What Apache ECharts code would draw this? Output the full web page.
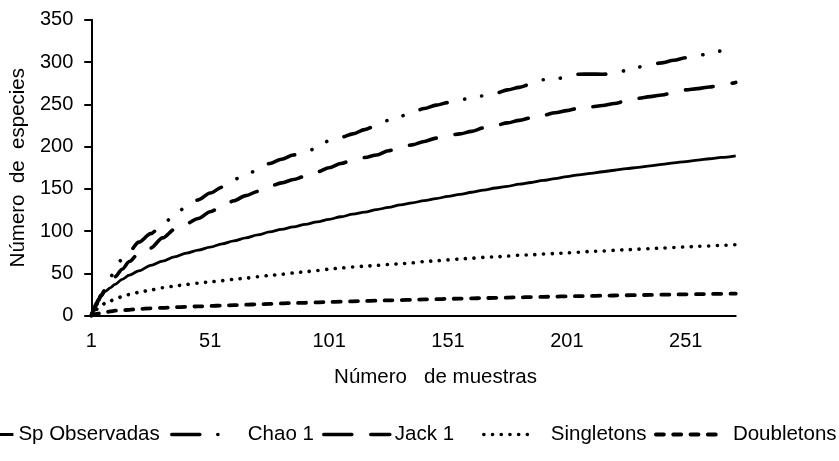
<!DOCTYPE html>
<html>
<head>
<meta charset="utf-8">
<script src="https://cdn.jsdelivr.net/npm/echarts@6/dist/echarts.min.js"></script>
<style>
html,body{margin:0;padding:0;background:#fff;}
#chart{width:839px;height:461px;}
</style>
</head>
<body>
<div id="chart"></div>
<script>
// Number of samples (x positions)
const samples = [1,2,3,4,5,7,9,11,14,17,21,
  26,31,36,41,46,51,56,61,66,71,
  76,81,86,91,96,101,106,111,116,121,
  126,131,136,141,146,151,156,161,166,171,
  176,181,186,191,196,201,206,211,216,221,
  226,231,236,241,246,251,256,261,266,
  272];

const spObservadas = [0,9,15,20,24,29,33,37,43,48,53,
  59.5,64.5,69.5,74,77.5,81,85,88.5,92,95.5,
  99,102,105,108,111,114,117,120,122.5,125.5,
  128,131,133.5,136,138.5,141,143.5,146,148.5,151,
  153,155.5,157.5,160,162,164.5,166.6,168.4,170.2,172,
  173.8,175.5,177.2,178.9,180.6,182.3,184,185.6,187.2,
  189];

const chao1 = [0,6,12,18,24,31,45,56,67,76,87,
  97,108,119,129,137,145,152,161,167,172,
  180,185,190,194,198,207,211,215,220,225,
  231,236,240,245,249,252,255,258,260,263,
  267,270,274,279,280,282,285.5,285.7,285.5,286,
  290,294,297,299,302,305,307.5,310,313,
  316];

const jack1 = [0,6,12,18,23,31,40,46,55,64,74,
  80,92,102,109,115,123,129,136,142,147,
  153,157,161,165,170,175,180,184,187,190,
  195,199,202,206,210,213,215,218,222,225,
  228,231,234,237,240,242.5,245.5,247,248.5,251,
  254,257,259,261,264,267,268.5,270.5,273,
  275.8];

const singletons = [0,4,7,9.5,11.5,15,17.5,19.5,22.5,25,27.5,
  30.5,33,35,37,38.5,40,41.5,43,44.5,46,
  47.5,49,50.5,52,53.5,55,56.5,57.5,58.5,59.5,
  60.5,61.5,62.5,64,65,66,67,68,69,69.5,
  70.5,71.5,72,73,73.5,74.3,75,76,76.5,77.3,
  78,78.7,79.3,80,80.7,81.3,82,82.5,83.2,
  84];

const doubletons = [0,1,2,2.5,3,4,5,6,6.5,7,8,
  8.7,9.3,10,10.5,11,11.5,12,12.5,13,13.5,
  14,14.5,15,15.3,15.7,16.2,16.6,17,17.4,17.8,
  18.1,18.5,18.8,19.2,19.5,19.9,20.2,20.5,20.8,21.1,
  21.4,21.7,22,22.3,22.6,22.9,23.2,23.4,23.7,23.9,
  24.2,24.4,24.6,24.9,25.1,25.3,25.5,25.7,25.9,
  26.1];

const xTickLabels = [1,51,101,151,201,251];
const seriesNames = ['Sp Observadas','Chao 1','Jack 1','Singletons','Doubletons'];

const FONT = 'Arial, "Liberation Sans", sans-serif';

const styles = {
  'Sp Observadas': {width: 2.8, type: 'solid', cap: 'butt'},
  'Chao 1': {width: 3.6, type: [28, 18, 0.1, 17, 0.1, 18], cap: 'round'},
  'Jack 1': {width: 3.6, type: [28, 19], cap: 'round'},
  'Singletons': {width: 3.6, type: [0.1, 8.6], cap: 'round'},
  'Doubletons': {width: 3.8, type: [8, 9.3], cap: 'round'}
};
const values = {
  'Sp Observadas': spObservadas, 'Chao 1': chao1, 'Jack 1': jack1,
  'Singletons': singletons, 'Doubletons': doubletons
};

function pairs(arr) { return samples.map((x, i) => [x, arr[i]]); }

const series = seriesNames.map(name => ({
  name: name,
  type: 'line',
  data: pairs(values[name]),
  symbol: 'none',
  smooth: 0.3,
  smoothMonotone: 'x',
  lineStyle: Object.assign({color: '#000'}, styles[name]),
  itemStyle: {color: '#000'},
  animation: false
}));

// legend layout: [left, itemWidth, textPadLeft]
const legendLayout = {
  'Sp Observadas': [-38, 50, 0],
  'Chao 1': [170, 56, 15],
  'Jack 1': [322, 66, 0],
  'Singletons': [482, 50, 12],
  'Doubletons': [654, 60, 12]
};

const legends = seriesNames.map(name => ({
  data: [name],
  left: legendLayout[name][0],
  top: 424,
  padding: 0,
  itemWidth: legendLayout[name][1],
  itemHeight: 14,
  selectedMode: false,
  itemStyle: {color: 'rgba(0,0,0,0)', borderWidth: 0, borderColor: 'rgba(0,0,0,0)'},
  lineStyle: Object.assign({color: '#000'}, styles[name]),
  textStyle: {
    color: '#000', fontFamily: FONT, fontSize: 20.5,
    padding: [0, 0, 0, legendLayout[name][2]]
  }
}));

const chart = echarts.init(document.getElementById('chart'), null, {renderer: 'canvas'});
chart.setOption({
  backgroundColor: '#fff',
  animation: false,
  grid: {left: 91, right: 103.3, top: 19.7, bottom: 145.3},
  legend: legends,
  xAxis: {
    type: 'value',
    min: 1,
    max: 272,
    name: 'Número   de muestras',
    nameLocation: 'middle',
    nameGap: 51,
    nameTextStyle: {color: '#000', fontFamily: FONT, fontSize: 20.5, padding: [0, 0, 0, 44]},
    axisLine: {show: true, onZero: false, lineStyle: {color: '#000', width: 2}},
    axisTick: {show: false},
    splitLine: {show: false},
    axisLabel: {
      color: '#000', fontFamily: FONT, fontSize: 20, margin: 16,
      customValues: xTickLabels,
      showMinLabel: true, showMaxLabel: true
    }
  },
  yAxis: {
    type: 'value',
    min: 0,
    max: 350,
    interval: 50,
    name: 'Número  de  especies',
    nameLocation: 'middle',
    nameGap: 52,
    nameTextStyle: {color: '#000', fontFamily: FONT, fontSize: 20.5},
    axisLine: {show: true, lineStyle: {color: '#000', width: 2}},
    axisTick: {show: true, length: 7, lineStyle: {color: '#000', width: 2}},
    splitLine: {show: false},
    axisLabel: {color: '#000', fontFamily: FONT, fontSize: 20, margin: 18}
  },
  series: series
});
</script>
</body>
</html>
